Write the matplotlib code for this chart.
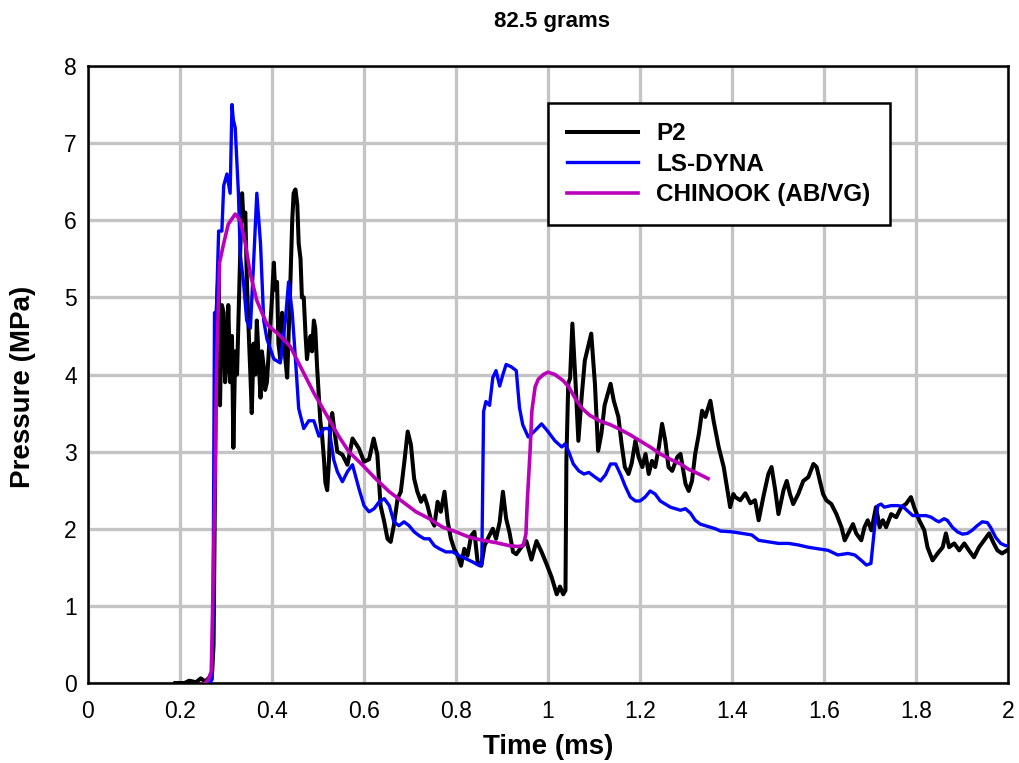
import matplotlib
matplotlib.use("Agg")
import matplotlib.pyplot as plt
from matplotlib.ticker import FuncFormatter, MultipleLocator

plt.rcParams['font.family'] = ['Liberation Sans', 'DejaVu Sans']

title = '82.5 grams'
series_names = ['P2', 'LS-DYNA', 'CHINOOK (AB/VG)']

p2_t = [0.19, 0.21, 0.22, 0.235, 0.245, 0.255, 0.265, 0.27, 0.273, 0.276, 0.279,
        0.284, 0.287, 0.291, 0.295, 0.298, 0.302, 0.305, 0.309, 0.313, 0.316, 0.32,
        0.324, 0.327, 0.331, 0.335, 0.338, 0.342, 0.345, 0.349, 0.353, 0.356, 0.36,
        0.364, 0.367, 0.371, 0.375, 0.378, 0.382, 0.385, 0.389, 0.393, 0.396, 0.4,
        0.404, 0.407, 0.411, 0.414, 0.418, 0.422, 0.425, 0.429, 0.433, 0.436, 0.44,
        0.444, 0.447, 0.451, 0.455, 0.458, 0.462, 0.465, 0.469, 0.473, 0.476, 0.48,
        0.484, 0.487, 0.491, 0.494, 0.498, 0.502, 0.505, 0.509, 0.513, 0.516, 0.52,
        0.524, 0.527, 0.531,
        0.535, 0.542, 0.553, 0.564, 0.575, 0.589, 0.6, 0.611, 0.621, 0.629, 0.636,
        0.644, 0.651, 0.658, 0.665, 0.673, 0.68, 0.687, 0.695, 0.702, 0.709, 0.716,
        0.724, 0.731, 0.738, 0.745, 0.753, 0.76, 0.767, 0.775, 0.782, 0.789, 0.796,
        0.804, 0.811, 0.818, 0.825, 0.833, 0.84, 0.847, 0.855, 0.862, 0.869, 0.88,
        0.887, 0.895, 0.902, 0.909, 0.916, 0.924, 0.931, 0.942, 0.953, 0.964, 0.975,
        0.986, 0.997, 1.008, 1.019, 1.026, 1.033, 1.038, 1.04, 1.044, 1.048, 1.053,
        1.06, 1.066, 1.073, 1.08, 1.094, 1.102, 1.109, 1.116, 1.123, 1.136, 1.143,
        1.153, 1.16, 1.167, 1.175, 1.182, 1.19, 1.197, 1.205, 1.212, 1.219, 1.226,
        1.233, 1.241, 1.248, 1.255, 1.262, 1.27, 1.281, 1.288, 1.299, 1.306, 1.313,
        1.32, 1.328, 1.335, 1.342, 1.353, 1.36, 1.371, 1.382, 1.389, 1.396, 1.403,
        1.407, 1.418, 1.429, 1.44, 1.45, 1.458, 1.468, 1.479, 1.486, 1.494, 1.501,
        1.512, 1.519, 1.526, 1.533, 1.544, 1.555, 1.566, 1.577, 1.584, 1.591, 1.598,
        1.605, 1.616, 1.627, 1.638, 1.645, 1.656, 1.663, 1.67, 1.681, 1.688, 1.695,
        1.703, 1.713, 1.721, 1.728, 1.735, 1.746, 1.757, 1.768, 1.778, 1.789, 1.796,
        1.807, 1.818, 1.825, 1.836, 1.847, 1.858, 1.865, 1.872, 1.883, 1.894, 1.905,
        1.915, 1.926, 1.937, 1.948, 1.959, 1.969, 1.977, 1.987, 1.998]
p2_p = [0.0, 0.0, 0.03, 0.01, 0.06, 0.02, 0.08, 0.15, 0.5, 2.5, 4.7,
        5.4, 3.6, 4.9, 4.8, 3.9, 4.2, 4.9, 3.9, 4.5, 3.05, 4.3,
        4.0, 4.7, 5.6, 6.35, 6.0, 6.1, 5.3, 4.6, 4.0, 3.5, 4.4,
        4.0, 4.7, 4.2, 3.7, 4.3, 4.1, 3.8, 3.9, 4.3, 4.6, 5.0,
        5.45, 5.1, 5.2, 4.4, 4.2, 4.8, 4.5, 4.2, 3.96, 4.5, 5.2,
        6.0, 6.35, 6.4, 6.2, 5.7, 5.5, 5.0, 5.0, 4.5, 4.2, 4.4,
        4.5, 4.3, 4.7, 4.6, 4.1, 3.7, 3.4, 3.2, 2.9, 2.6, 2.5,
        2.9, 3.4, 3.5,
        3.3, 3.0, 2.96, 2.83, 3.17, 3.04, 2.87, 2.9, 3.17, 2.96, 2.3,
        2.09, 1.87, 1.83, 2.05, 2.39, 2.48, 2.83, 3.26, 3.09, 2.65, 2.48,
        2.35, 2.43, 2.3, 2.13, 2.04, 2.35, 2.22, 2.48, 2.09, 1.87, 1.74,
        1.65, 1.52, 1.74, 1.65, 1.91, 1.96, 1.57, 1.52, 1.78, 1.87, 2.0,
        1.87, 2.09, 2.48, 2.13, 1.96, 1.7, 1.67, 1.76, 1.84, 1.6, 1.84,
        1.7, 1.54, 1.37, 1.15, 1.25, 1.15, 1.2, 2.9, 3.88, 3.95, 4.66,
        3.88, 3.14, 3.7, 4.18, 4.53, 3.88, 3.01, 3.23, 3.6, 3.88, 3.66,
        3.45, 3.1, 2.8, 2.71, 2.85, 3.14, 2.93, 2.8, 2.97, 2.71, 2.88,
        2.8, 3.06, 3.36, 3.14, 2.8, 2.75, 2.93, 2.97, 2.58, 2.49, 2.62,
        2.97, 3.23, 3.53, 3.45, 3.66, 3.4, 3.06, 2.8, 2.54, 2.28, 2.45,
        2.41, 2.37, 2.46, 2.33, 2.37, 2.11, 2.41, 2.71, 2.8, 2.5, 2.19,
        2.5, 2.62, 2.45, 2.32, 2.45, 2.62, 2.67, 2.84, 2.8, 2.62, 2.45,
        2.37, 2.32, 2.19, 2.02, 1.85, 1.98, 2.06, 1.94, 1.85, 2.02, 2.11,
        1.98, 2.28, 2.02, 2.11, 2.02, 2.19, 2.15, 2.28, 2.32, 2.41, 2.28,
        2.11, 1.98, 1.76, 1.59, 1.68, 1.76, 1.94, 1.76, 1.81, 1.72, 1.81,
        1.72, 1.63, 1.76, 1.85, 1.94, 1.81, 1.72, 1.68, 1.72]

# LS-DYNA simulation
dyna_t = [0.265, 0.27, 0.272, 0.275, 0.279, 0.284, 0.291, 0.295, 0.302, 0.309, 0.313,
          0.316, 0.32, 0.327, 0.331, 0.338, 0.345, 0.353, 0.36, 0.367, 0.375, 0.382,
          0.389, 0.404, 0.418, 0.429, 0.436, 0.444, 0.451, 0.458, 0.469, 0.48, 0.491,
          0.502, 0.513, 0.524, 0.534, 0.542, 0.553, 0.564, 0.575, 0.589, 0.6, 0.611,
          0.622, 0.633, 0.644, 0.655, 0.665, 0.676, 0.687, 0.698, 0.709, 0.72, 0.731,
          0.742, 0.753, 0.764, 0.778, 0.793, 0.807, 0.822, 0.836, 0.851, 0.856, 0.86,
          0.865, 0.873, 0.88, 0.887, 0.895, 0.902, 0.909, 0.92, 0.931, 0.938, 0.945,
          0.957, 0.968, 0.986, 1.0, 1.015, 1.03, 1.037, 1.045, 1.055, 1.067, 1.078,
          1.089, 1.1, 1.114, 1.125, 1.136, 1.147, 1.158, 1.168, 1.179, 1.19, 1.2,
          1.211, 1.222, 1.233, 1.244, 1.255, 1.266, 1.277, 1.288, 1.299, 1.31, 1.32,
          1.331, 1.342, 1.353, 1.364, 1.375, 1.4, 1.422, 1.443, 1.458, 1.479, 1.501,
          1.523, 1.544, 1.566, 1.587, 1.609, 1.63, 1.652, 1.667, 1.681, 1.692, 1.702,
          1.71, 1.717, 1.724, 1.731, 1.746, 1.76, 1.771, 1.782, 1.793, 1.807, 1.822,
          1.833, 1.843, 1.85, 1.861, 1.868, 1.879, 1.89, 1.901, 1.912, 1.922, 1.933,
          1.944, 1.955, 1.962, 1.973, 1.984, 1.995, 2.0]
dyna_p = [0.0, 0.05, 1.1, 4.8, 4.8, 5.86, 5.86, 6.45, 6.6, 6.35, 7.5,
          7.3, 7.2, 6.35, 5.55, 5.2, 4.7, 4.6, 5.45, 6.35, 5.7, 4.7,
          4.46, 4.2, 4.15, 4.7, 5.2, 4.8, 4.2, 3.56, 3.3, 3.4, 3.4,
          3.2, 3.3, 3.3, 2.9, 2.74, 2.61, 2.74, 2.83, 2.52, 2.3, 2.22,
          2.26, 2.35, 2.39, 2.3, 2.09, 2.04, 2.09, 2.04, 1.96, 1.91, 1.87,
          1.87, 1.78, 1.74, 1.7, 1.7, 1.65, 1.61, 1.57, 1.52, 1.54, 3.52,
          3.65, 3.6, 3.96, 4.05, 3.85, 4.0, 4.13, 4.1, 4.05, 3.57, 3.35,
          3.19, 3.25, 3.36, 3.26, 3.14, 3.06, 3.1, 3.0, 2.84, 2.75, 2.71,
          2.73, 2.68, 2.62, 2.7, 2.84, 2.84, 2.7, 2.55, 2.41, 2.36, 2.36,
          2.41, 2.49, 2.45, 2.36, 2.32, 2.28, 2.26, 2.24, 2.26, 2.2, 2.11,
          2.06, 2.04, 2.02, 2.0, 1.97, 1.96, 1.94, 1.92, 1.85, 1.83, 1.81,
          1.81, 1.79, 1.76, 1.74, 1.72, 1.66, 1.68, 1.66, 1.59, 1.53, 1.55,
          2.02, 2.3, 2.32, 2.28, 2.3, 2.3, 2.29, 2.23, 2.17, 2.17, 2.17,
          2.15, 2.11, 2.09, 2.13, 2.11, 2.02, 1.96, 1.93, 1.94, 1.98, 2.04,
          2.09, 2.08, 2.02, 1.89, 1.81, 1.78, 1.78]

# CHINOOK (AB/VG) simulation
chin_t = [0.255, 0.262, 0.268, 0.271, 0.276, 0.28, 0.286, 0.295, 0.305, 0.32, 0.331,
          0.342, 0.353, 0.367, 0.389, 0.418, 0.44, 0.462, 0.491, 0.52, 0.545, 0.567,
          0.596, 0.625, 0.655, 0.684, 0.713, 0.742, 0.771, 0.8, 0.829, 0.858, 0.887,
          0.916, 0.935, 0.946, 0.952, 0.955, 0.961, 0.965, 0.972, 0.979, 0.99, 1.0,
          1.015, 1.033, 1.045, 1.062, 1.076, 1.091, 1.112, 1.135, 1.156, 1.178, 1.2,
          1.222, 1.244, 1.266, 1.288, 1.306, 1.328, 1.348]
chin_p = [0.0, 0.05, 0.15, 1.0, 2.6, 4.2, 5.45, 5.7, 5.95, 6.08, 6.0,
          5.7, 5.3, 4.96, 4.65, 4.5, 4.36, 4.1, 3.76, 3.46, 3.2, 3.0,
          2.83, 2.65, 2.48, 2.35, 2.22, 2.13, 2.02, 1.96, 1.89, 1.85, 1.82,
          1.78, 1.77, 1.78, 1.93, 2.36, 3.0, 3.53, 3.84, 3.94, 4.0, 4.03,
          4.0, 3.92, 3.84, 3.66, 3.55, 3.47, 3.4, 3.35, 3.29, 3.22, 3.14,
          3.06, 2.97, 2.9, 2.84, 2.77, 2.71, 2.65]

fig = plt.figure(figsize=(10.19, 7.63), dpi=100)
ax = fig.add_axes([88 / 1019, 80 / 763, 920 / 1019, 617 / 763])

ax.plot(p2_t, p2_p, color='black', lw=2.9, label=series_names[0], zorder=3)
ax.plot(dyna_t, dyna_p, color='#0000ff', lw=2.4, label=series_names[1], zorder=4)
ax.plot(chin_t, chin_p, color='#bb00bb', lw=2.6, label=series_names[2], zorder=5)

ax.set_xlim(0, 2)
ax.set_ylim(0, 8)
ax.xaxis.set_major_locator(MultipleLocator(0.2))
ax.yaxis.set_major_locator(MultipleLocator(1))
ax.xaxis.set_major_formatter(FuncFormatter(lambda v, pos: '%g' % round(v, 1)))
ax.grid(True, color='#c4c4c4', lw=2.4)
ax.set_axisbelow(True)
ax.tick_params(length=0, labelsize=16.5)
ax.tick_params(axis='x', pad=12)
ax.tick_params(axis='y', pad=8)
for s in ax.spines.values():
    s.set_linewidth(1.8)

ax.set_xlabel('Time (ms)', fontsize=20, fontweight='bold', labelpad=8)
ax.set_ylabel('Pressure (MPa)', fontsize=20, fontweight='bold')
ax.yaxis.set_label_coords(-0.057, 0.48)
fig.text(552 / 1019, 1 - 22 / 763, title, ha='center', va='center',
         fontsize=16, fontweight='bold')

leg = ax.legend(loc='upper left', bbox_to_anchor=(0.5, 0.94), fancybox=False,
                framealpha=1, edgecolor='black', borderpad=0.8,
                handlelength=2.9, handletextpad=0.75, labelspacing=0.3,
                borderaxespad=0, prop={'weight': 'bold', 'size': 17.5})
leg.get_frame().set_linewidth(1.8)

fig.savefig('out.png', dpi=100)
